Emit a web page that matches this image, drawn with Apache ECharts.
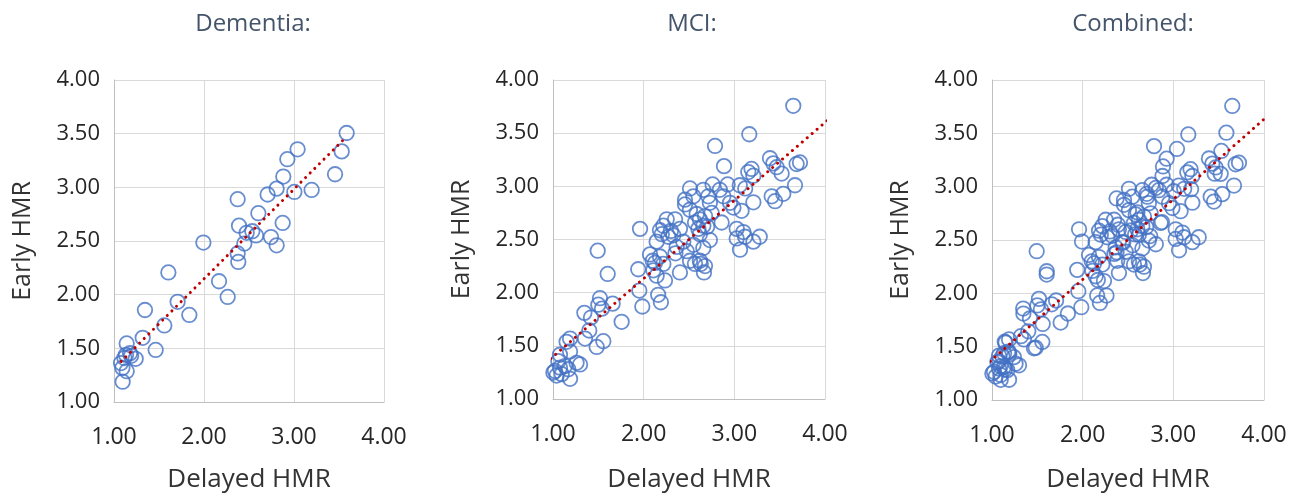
<!DOCTYPE html>
<html>
<head>
<meta charset="utf-8">
<script src="https://cdn.jsdelivr.net/npm/echarts@6/dist/echarts.min.js"></script>
<style>
html,body{margin:0;padding:0;background:#fff;}
#chart{width:1301px;height:498px;}
</style>
</head>
<body>
<div id="chart"></div>
<script>
// Panel titles and axis labels
const panelTitles = ['Dementia:', 'MCI:', 'Combined:'];
const xAxisName = 'Delayed HMR';
const yAxisName = 'Early HMR';

// Dementia: [Delayed HMR, Early HMR]
const dementiaPoints = [
  [3.585,3.506],[3.04,3.354],[2.926,3.262],[2.881,3.10],[3.53,3.335],[3.456,3.122],
  [3.196,2.976],[3.004,2.957],[2.807,2.988],[2.707,2.933],[2.374,2.89],[2.604,2.759],
  [2.874,2.668],[2.389,2.643],[2.474,2.576],[2.537,2.591],[2.578,2.552],[2.448,2.476],
  [2.744,2.537],[2.807,2.46],[2.374,2.384],[2.381,2.305],[1.993,2.485],[1.604,2.207],
  [2.167,2.125],[2.263,1.979],[1.707,1.933],[1.837,1.811],[1.559,1.713],[1.344,1.857],
  [1.319,1.598],[1.463,1.485],[1.141,1.546],[1.178,1.454],[1.241,1.402],[1.115,1.409],
  [1.078,1.363],[1.093,1.317],[1.141,1.287],[1.096,1.189],[1.133,1.439],[1.19,1.43]
];

// MCI: [Delayed HMR, Early HMR]
const mciPoints = [
  [3.65,3.757],[3.165,3.49],[2.787,3.38],[2.886,3.19],[3.393,3.264],[3.43,3.216],
  [3.467,3.18],[3.522,3.12],[3.687,3.21],[3.724,3.225],[3.669,3.01],[3.19,3.164],
  [3.154,3.134],[3.21,3.10],[3.412,2.906],[3.449,2.86],[3.54,2.93],[3.21,2.85],
  [3.06,3.01],[3.12,2.98],[2.926,3.018],[2.76,3.018],[2.658,2.967],[2.511,2.98],
  [2.456,2.83],[2.548,2.906],[2.713,2.906],[2.73,2.845],[2.879,2.906],[2.952,2.845],
  [2.99,2.80],[3.08,2.77],[2.86,2.66],[3.026,2.60],[3.10,2.57],[3.026,2.51],
  [3.118,2.526],[3.21,2.48],[3.28,2.526],[3.063,2.404],[2.73,2.495],[2.658,2.42],
  [2.629,2.27],[2.665,2.19],[2.676,2.25],[2.566,2.27],[2.511,2.30],[2.40,2.19],
  [2.475,2.39],[2.437,2.48],[2.364,2.43],[2.327,2.54],[2.40,2.60],[2.272,2.526],
  [2.217,2.63],[2.18,2.587],[2.143,2.48],[2.254,2.69],[2.346,2.69],[2.566,2.66],
  [2.585,2.74],[2.62,2.69],[2.676,2.72],[2.51,2.78],[2.75,2.75],[2.603,2.60],
  [2.658,2.63],[1.96,2.60],[2.07,2.36],[2.125,2.28],[2.107,2.21],[2.18,2.34],
  [2.217,2.27],[2.143,2.16],[2.235,2.115],[1.94,2.22],[1.952,2.02],[1.985,1.87],
  [2.16,1.98],[2.19,1.91],[1.493,2.395],[1.603,2.176],[1.757,1.726],[1.658,1.897],
  [1.518,1.948],[1.50,1.887],[1.54,1.85],[1.346,1.81],[1.419,1.766],[1.40,1.644],
  [1.353,1.568],[1.482,1.49],[1.555,1.544],[1.188,1.568],[1.15,1.538],[1.188,1.447],
  [1.077,1.416],[1.059,1.356],[1.298,1.325],[1.022,1.264],[1.096,1.234],[1.004,1.249],
  [1.04,1.22],[1.188,1.19],[1.132,1.31],[1.077,1.295],[1.169,1.28],[1.26,1.34],
  [2.456,2.875],[2.84,2.967],[2.62,2.55],[2.70,2.62],[2.30,2.58],[2.55,2.45],
  [2.35,2.37],[2.62,2.30],[2.10,2.30],[2.20,2.55]
];

// Combined = Dementia + MCI
const combinedPoints = dementiaPoints.concat(mciPoints);

// Linear trend line end points
const dementiaTrend = [[1.08,1.378],[3.567,3.458]];
const mciTrend = [[0.92,1.34],[4.04,3.63]];
const combinedTrend = [[0.926,1.322],[4.096,3.705]];

const xTicks = {min:1, max:4, interval:1};
const yTicks = {min:1, max:4, interval:0.5};

const panels = [
  {pts: dementiaPoints, trend: dementiaTrend, grid:{left:114, width:270, top:80, height:328}, titleX:248, yGap:79, xGap:65},
  {pts: mciPoints, trend: mciTrend, grid:{left:553, width:272, top:80, height:329}, titleX:687, yGap:79, xGap:68},
  {pts: combinedPoints, trend: combinedTrend, grid:{left:992, width:272, top:80, height:326}, titleX:1128, yGap:79, xGap:67}
];

const chart = echarts.init(document.getElementById('chart'), null, {renderer:'canvas'});
const font = "'Open Sans', 'Noto Sans', sans-serif";

const option = {
  backgroundColor:'#ffffff',
  animation:false,
  title: panels.map((p,i)=>({
    text: panelTitles[i], left: p.titleX, top: 7, textAlign:'center',
    textStyle:{fontFamily:font, fontSize:24, fontWeight:'normal', color:'#44546A'}
  })),
  grid: panels.map(p=>Object.assign({containLabel:false}, p.grid)),
  xAxis: panels.map((p,i)=>({
    gridIndex:i, type:'value', min:xTicks.min, max:xTicks.max, interval:xTicks.interval,
    name:xAxisName, nameLocation:'middle', nameGap:p.xGap,
    nameTextStyle:{fontFamily:font, fontSize:26, color:'#333333'},
    axisLine:{show:true, lineStyle:{color:'#bfbfbf', width:1}},
    axisTick:{show:false},
    axisLabel:{fontFamily:font, fontSize:23, color:'#262626', margin:24, formatter:v=>v.toFixed(2)},
    splitLine:{show:true, lineStyle:{color:'#d9d9d9', width:1}}
  })),
  yAxis: panels.map((p,i)=>({
    gridIndex:i, type:'value', min:yTicks.min, max:yTicks.max, interval:yTicks.interval,
    name:yAxisName, nameLocation:'middle', nameGap:p.yGap,
    nameTextStyle:{fontFamily:font, fontSize:25, color:'#333333'},
    axisLine:{show:true, lineStyle:{color:'#bfbfbf', width:1}},
    axisTick:{show:false},
    axisLabel:{fontFamily:font, fontSize:22, color:'#262626', margin:14, formatter:v=>v.toFixed(2)},
    splitLine:{show:true, lineStyle:{color:'#d9d9d9', width:1}}
  })),
  series: [].concat(...panels.map((p,i)=>[
    {
      type:'scatter', xAxisIndex:i, yAxisIndex:i, data:p.pts,
      symbol:'circle', symbolSize:14.5,
      itemStyle:{color:'rgba(0,0,0,0)', borderColor:'#4472C4', borderWidth:1.8},
      z:2
    },
    {
      type:'line', xAxisIndex:i, yAxisIndex:i, data:p.trend,
      showSymbol:false, symbol:'none', clip:false,
      lineStyle:{color:'#C00000', width:3, type:[0.01,6.5], cap:'round'},
      z:3
    }
  ]))
};
chart.setOption(option);
</script>
</body>
</html>
